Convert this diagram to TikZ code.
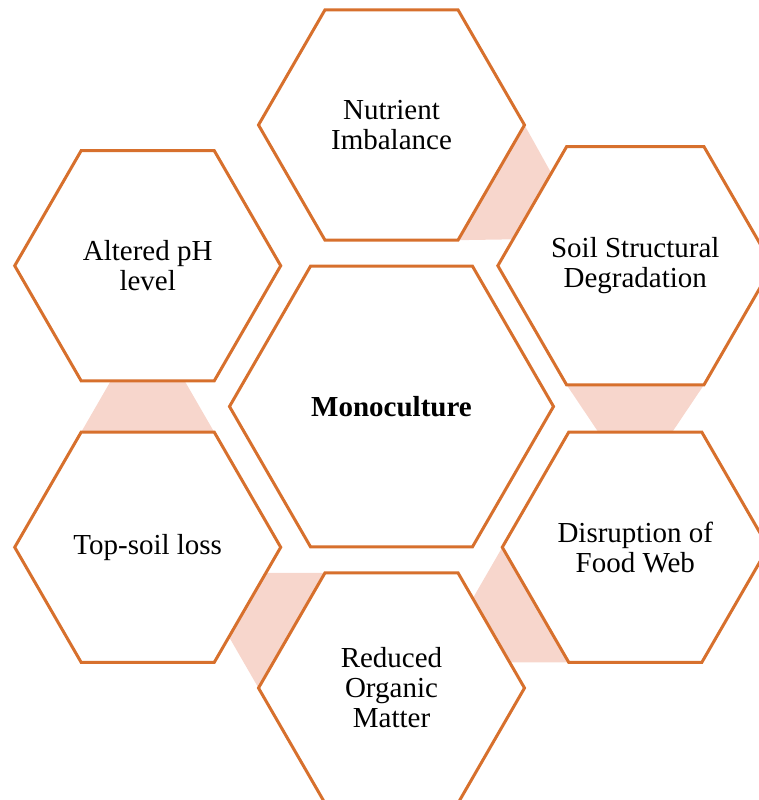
\documentclass[tikz,border=0pt]{standalone}
\usepackage{fontspec}
\setmainfont{Liberation Serif}
\usetikzlibrary{shapes.geometric,calc,backgrounds}

\definecolor{hexorange}{RGB}{215,112,45}
\definecolor{linkpink}{RGB}{247,214,204}

\tikzset{
    hexa/.style={regular polygon, regular polygon sides=6, minimum size=266pt,
        draw=hexorange, line width=3pt, fill=white, inner sep=0pt, outer sep=0pt,
        align=center, font=\fontsize{29}{30}\selectfont},
    hexmain/.style={hexa, minimum size=324pt, font=\fontsize{29}{30}\selectfont\bfseries},
    link/.style={fill=linkpink}
}

\begin{document}
\begin{tikzpicture}[x=1pt,y=1pt]
            \useasboundingbox (-391.5,-393.5) rectangle (367.5,406.5);
            \node[hexmain] (mono) {Monoculture};
            \node[hexa] (nutr) at (  90:281.5) {Nutrient\\Imbalance};
            \node[hexa] (soil) at (  30:281.5) {Soil Structural\\Degradation};
            \node[hexa] (food) at ( -30:281.5) {Disruption of\\Food Web};
            \node[hexa] (orga) at ( -90:281.5) {Reduced\\Organic\\Matter};
            \node[hexa] (tops) at (-150:281.5) {Top-soil loss};
            \node[hexa] (phlv) at ( 150:281.5) {Altered pH\\level};
            \begin{scope}[on background layer]
                \fill[link] (nutr.0)    -- (nutr.-60)  -- ($(soil.180)!0.222!(soil.120)$) -- ($(soil.120)!0.222!(soil.180)$) -- cycle;
                \fill[link] (soil.-60)  -- (soil.-120) -- ($(food.120)!0.222!(food.60)$)  -- ($(food.60)!0.222!(food.120)$)  -- cycle;
                \fill[link] (food.-120) -- (food.180)  -- ($(orga.60)!0.222!(orga.0)$)    -- ($(orga.0)!0.222!(orga.60)$)    -- cycle;
                \fill[link] (orga.180)  -- (orga.120)  -- ($(tops.0)!0.222!(tops.-60)$)   -- ($(tops.-60)!0.222!(tops.0)$)   -- cycle;
                \fill[link] (tops.120)  -- (tops.60)   -- ($(phlv.-60)!0.222!(phlv.-120)$) -- ($(phlv.-120)!0.222!(phlv.-60)$) -- cycle;
            \end{scope}
        \end{tikzpicture}
\end{document}
